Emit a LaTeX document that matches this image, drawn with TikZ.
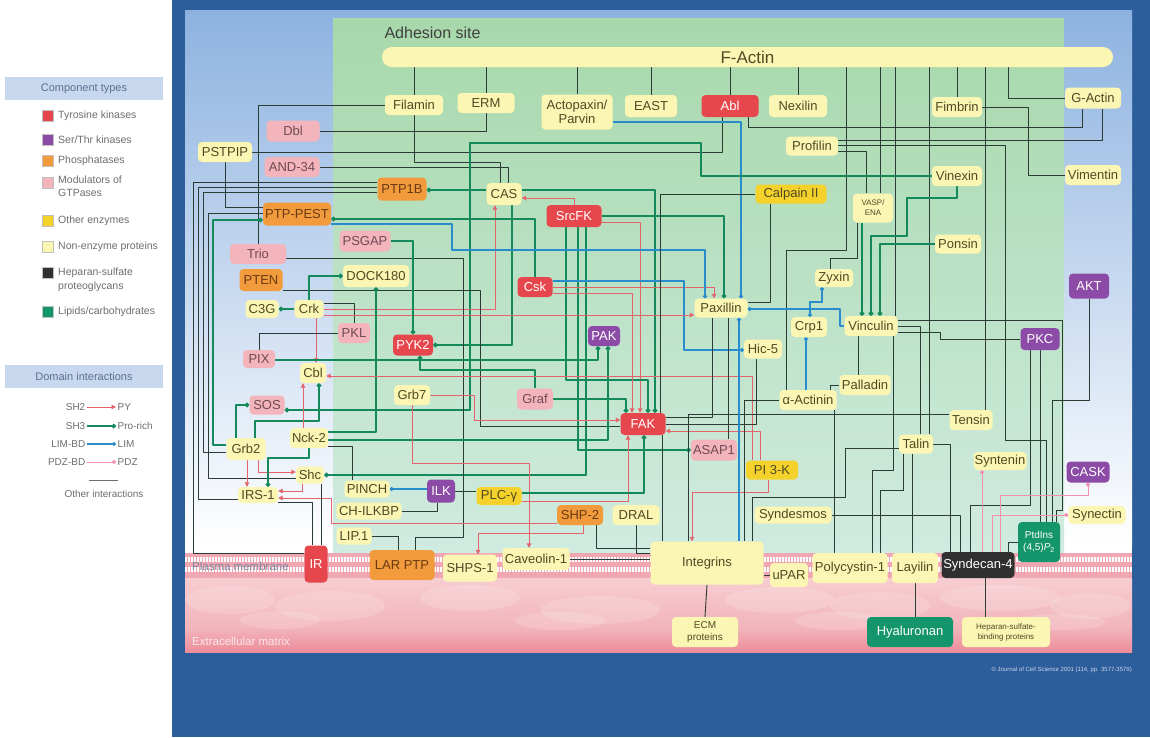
\documentclass[tikz,border=0pt]{standalone}
\usepackage{fontspec}
\setmainfont{Liberation Sans}
\usetikzlibrary{arrows.meta}
\pgfdeclarelayer{bg}
\pgfdeclarelayer{wires}
\pgfsetlayers{bg,wires,main}

% component colours
\definecolor{frame}{HTML}{2D5E9C}
\definecolor{skyA}{HTML}{8DB2E0}
\definecolor{grA}{HTML}{A7D8AA}
\definecolor{grB}{HTML}{D0EBE0}
\definecolor{memb}{HTML}{F0A7B1}
\definecolor{ecmA}{HTML}{F7CDD1}
\definecolor{ecmB}{HTML}{F2B4BB}
\definecolor{ecmC}{HTML}{EC8D9A}
\definecolor{cNen}{HTML}{FBF6B3}
\definecolor{cOen}{HTML}{F4D12B}
\definecolor{cTyr}{HTML}{E6474C}
\definecolor{cSer}{HTML}{8B4BA6}
\definecolor{cPho}{HTML}{F19B3C}
\definecolor{cGtp}{HTML}{F4B4BC}
\definecolor{cHsp}{HTML}{303030}
\definecolor{cLip}{HTML}{14956B}
\definecolor{tDark}{HTML}{4E4A24}
\definecolor{tPho}{HTML}{6B3A12}
\definecolor{tGtp}{HTML}{6E4B55}
\definecolor{tLeg}{HTML}{6E6E6E}
\definecolor{tPm}{HTML}{7A86A0}
\definecolor{tEcm}{HTML}{FBE6EA}
\definecolor{tCopy}{HTML}{C9D6EA}
\definecolor{cHead}{HTML}{C7D8EE}
\definecolor{tHead}{HTML}{5B6F8F}
\definecolor{wBlk}{HTML}{2B3B35}
\definecolor{wRed}{HTML}{E4636A}
\definecolor{wGrn}{HTML}{13895C}
\definecolor{wBlu}{HTML}{2A8DCB}
\definecolor{wPnk}{HTML}{F290AE}

\tikzset{
  box/.style={rounded corners=4pt, inner sep=1pt, align=center, font=\fontsize{13}{14}\selectfont},
  nen/.style={box, fill=cNen, text=tDark},
  oen/.style={box, fill=cOen, text=tDark},
  tyk/.style={box, fill=cTyr, text=white},
  stk/.style={box, fill=cSer, text=white},
  pho/.style={box, fill=cPho, text=tPho},
  gtp/.style={box, fill=cGtp, text=tGtp},
  hsp/.style={box, fill=cHsp, text=white},
  lip/.style={box, fill=cLip, text=white},
  oth/.style={draw=wBlk, line width=0.9pt, line join=round},
  sh2/.style={draw=wRed, line width=0.9pt, line join=round, -{Triangle[length=4.5pt,width=4.5pt]}},
  sh3/.style={draw=wGrn, line width=1.8pt, line join=round, -{Circle[length=4.5pt]}},
  lim/.style={draw=wBlu, line width=1.1pt, line join=round, -{Circle[length=4pt]}},
  pdz/.style={draw=wPnk, line width=1pt, line join=round, -{Circle[length=4pt]}},
  lgsq/.style={minimum size=11pt, inner sep=0pt, draw=black!25, line width=0.3pt},
  lgt/.style={anchor=west, text=tLeg, font=\fontsize{10.5}{13.5}\selectfont, align=left, inner sep=0pt},
  lgd/.style={text=tLeg, font=\fontsize{10}{12}\selectfont, inner sep=1.5pt},
  lghead/.style={fill=cHead, text=tHead, minimum width=158pt, minimum height=23pt, font=\fontsize{11}{12}\selectfont, inner sep=0pt},
}

\newcommand{\bx}[6]{\node[#1, minimum width=#4pt, minimum height=#5pt] (#2) at (#3) {#6};}

\begin{document}
\begin{tikzpicture}[x=1pt,y=-1pt]
\useasboundingbox (0,0) rectangle (1150,737);

% ---------- backdrop: cytoplasm, adhesion site, membrane, matrix ----------
\begin{pgfonlayer}{bg}
\fill[white] (0,0) rectangle (1150,737);
\fill[frame] (172,0) rectangle (1150,737);
\shade[top color=skyA, bottom color=white] (185,10) rectangle (1132,545);
\fill[white] (185,545) rectangle (1132,553);
\shade[top color=grA, bottom color=grB] (333,18) rectangle (1064,553);
\fill[memb] (185,553) rectangle (1132,578);
\foreach \x in {186,189,...,1131} {
  \draw[white, line width=1.3pt] (\x,557) -- (\x,562) (\x,567) -- (\x,572);
}
\shade[top color=ecmA, bottom color=ecmB] (185,578) rectangle (1132,628);
\shade[top color=ecmB, bottom color=ecmC] (185,628) rectangle (1132,652);
\foreach \cx/\cy/\rx/\ry in {230/600/45/14, 330/606/55/15, 470/598/50/13, 600/610/60/14,
    780/600/55/13, 880/606/50/14, 1000/598/60/13, 1090/606/40/13, 280/620/40/9,
    560/621/45/9, 840/621/45/9, 1060/622/45/8} {
  \fill[white, opacity=0.16] (\cx,\cy) ellipse [x radius=\rx pt, y radius=\ry pt];
}
\end{pgfonlayer}

\node[anchor=west, text=black!75, font=\fontsize{16}{18}\selectfont] (adh) at (381,33) {Adhesion site};
\node[anchor=west, text=tPm, font=\fontsize{11.5}{13}\selectfont, inner sep=0pt] (pmlab) at (192,566) {Plasma membrane};
\node[anchor=west, text=tEcm, font=\fontsize{11.5}{13}\selectfont, inner sep=0pt] (ecmlab) at (192,641) {Extracellular matrix};
\node[anchor=east, text=tCopy, font=\fontsize{6}{7}\selectfont, inner sep=0pt] (copy) at (1132,670) {\textcopyright\ Journal of Cell Science 2001 (114, pp. 3577-3579)};

% ---------- legend ----------
\node[lghead] (hComp) at (84,88.5) {Component types};
\node[lgsq, fill=cTyr] (sq1) at (47.5,116) {}; \node[lgt] (t1) at (58,116) {Tyrosine kinases};
\node[lgsq, fill=cSer] (sq2) at (47.5,140) {}; \node[lgt] (t2) at (58,140) {Ser/Thr kinases};
\node[lgsq, fill=cPho] (sq3) at (47.5,161) {}; \node[lgt] (t3) at (58,161) {Phosphatases};
\node[lgsq, fill=cGtp] (sq4) at (47.5,183) {}; \node[lgt] (t4) at (58,186) {Modulators of\\GTPases};
\node[lgsq, fill=cOen] (sq5) at (47.5,221) {}; \node[lgt] (t5) at (58,221) {Other enzymes};
\node[lgsq, fill=cNen] (sq6) at (47.5,247) {}; \node[lgt] (t6) at (58,247) {Non-enzyme proteins};
\node[lgsq, fill=cHsp] (sq7) at (47.5,273) {}; \node[lgt] (t7) at (58,280) {Heparan-sulfate\\proteoglycans};
\node[lgsq, fill=cLip] (sq8) at (47.5,312) {}; \node[lgt] (t8) at (58,312) {Lipids/carbohydrates};

\node[lghead] (hDom) at (84,376.5) {Domain interactions};
\node[lgd, anchor=east] (dA1) at (87,407) {SH2};    \node[lgd, anchor=west] (dA2) at (116,407) {PY};
\node[lgd, anchor=east] (dB1) at (87,426) {SH3};    \node[lgd, anchor=west] (dB2) at (116,426) {Pro-rich};
\node[lgd, anchor=east] (dC1) at (87,444) {LIM-BD}; \node[lgd, anchor=west] (dC2) at (116,444) {LIM};
\node[lgd, anchor=east] (dD1) at (87,462) {PDZ-BD}; \node[lgd, anchor=west] (dD2) at (116,462) {PDZ};
\coordinate (oL) at (89,480); \coordinate (oR) at (118,480);
\node[lgd] (dOther) at (104,494) {Other interactions};

% ---------- components ----------
\node[box, fill=cNen, text=tDark, rounded corners=10pt, minimum width=731pt, minimum height=20pt,
      font=\fontsize{17}{18}\selectfont] (FActin) at (747.5,57) {F-Actin};
\bx{nen}{Filamin}{414,105}{58}{20}{Filamin}
\bx{nen}{ERM}{486,103}{57}{20}{ERM}
\bx{nen}{Actopaxin}{577,112}{71}{35}{Actopaxin/\\Parvin}
\bx{nen}{EAST}{651,106}{52}{22}{EAST}
\bx{tyk}{Abl}{730,106}{57}{22}{Abl}
\bx{nen}{Nexilin}{798,106}{58}{22}{Nexilin}
\bx{nen}{Fimbrin}{957,107}{50}{20}{Fimbrin}
\bx{nen}{GActin}{1093,98}{56}{21}{G-Actin}
\bx{nen}{Profilin}{812,146}{52}{19}{Profilin}
\bx{nen}{Vinexin}{957,176}{50}{20}{Vinexin}
\bx{nen}{Vimentin}{1093,175}{56}{20}{Vimentin}
\bx{oen}{Calpain}{791,194}{71}{19}{Calpain II}
\node[nen, font=\fontsize{8}{10}\selectfont, minimum width=40pt, minimum height=29pt] (VASP) at (873,208) {VASP/\\ENA};
\bx{nen}{Ponsin}{958,244}{46}{19}{Ponsin}
\bx{gtp}{Dbl}{293,131}{53}{21}{Dbl}
\bx{nen}{PSTPIP}{225,152}{54}{20}{PSTPIP}
\bx{gtp}{AND34}{292,167}{55}{20}{AND-34}
\bx{pho}{PTP1B}{402,189}{49}{23}{PTP1B}
\bx{nen}{CAS}{504,194}{35}{22}{CAS}
\bx{pho}{PTPPEST}{297,214}{68}{23}{PTP-PEST}
\bx{tyk}{SrcFK}{574,216}{55}{22}{SrcFK}
\bx{gtp}{PSGAP}{365,241}{51}{21}{PSGAP}
\bx{gtp}{Trio}{258,254}{56}{20}{Trio}
\bx{pho}{PTEN}{261,280}{43}{22}{PTEN}
\bx{nen}{DOCK180}{376,276}{66}{22}{DOCK180}
\bx{tyk}{Csk}{535,287}{35}{20}{Csk}
\bx{stk}{AKT}{1089,286}{40}{25}{AKT}
\bx{nen}{Zyxin}{834,278}{38}{18}{Zyxin}
\bx{nen}{C3G}{262,309}{33}{18}{C3G}
\bx{nen}{Crk}{309,309}{29}{18}{Crk}
\bx{nen}{Paxillin}{721,308}{53}{19}{Paxillin}
\bx{nen}{Crp1}{809,327}{36}{20}{Crp1}
\bx{nen}{Vinculin}{871,326}{53}{20}{Vinculin}
\bx{gtp}{PKL}{354,333}{32}{20}{PKL}
\bx{stk}{PKC}{1040,339}{39}{22}{PKC}
\bx{stk}{PAK}{604,336}{32}{20}{PAK}
\bx{tyk}{PYK2}{413,345}{40}{21}{PYK2}
\bx{nen}{Hic5}{763,349}{38}{19}{Hic-5}
\bx{gtp}{PIX}{259,359}{32}{18}{PIX}
\bx{nen}{Cbl}{313,373}{26}{20}{Cbl}
\bx{nen}{Palladin}{865,385}{51}{20}{Palladin}
\bx{nen}{Grb7}{412,395}{36}{20}{Grb7}
\bx{nen}{aActinin}{808,400}{57}{20}{α-Actinin}
\bx{gtp}{Graf}{535,399}{36}{21}{Graf}
\bx{gtp}{SOS}{267,405}{35}{19}{SOS}
\bx{tyk}{FAK}{643,424}{45}{22}{FAK}
\bx{nen}{Tensin}{971,420}{43}{20}{Tensin}
\bx{nen}{Nck2}{309,438}{38}{20}{Nck-2}
\bx{nen}{Talin}{916,444}{34}{19}{Talin}
\bx{nen}{Grb2}{246,449}{39}{22}{Grb2}
\bx{gtp}{ASAP1}{714,450}{46}{21}{ASAP1}
\bx{nen}{Syntenin}{1000,461}{53}{18}{Syntenin}
\bx{oen}{PI3K}{772,470}{52}{19}{PI 3-K}
\bx{stk}{CASK}{1088,472}{43}{21}{CASK}
\bx{nen}{Shc}{310,475}{28}{17}{Shc}
\bx{nen}{PINCH}{367,489}{45}{17}{PINCH}
\bx{stk}{ILK}{441,491}{28}{23}{ILK}
\bx{nen}{IRS1}{258,495}{40}{16}{IRS-1}
\bx{oen}{PLCg}{499,496}{45}{18}{PLC-γ}
\bx{nen}{CHILKBP}{369,511}{65}{17}{CH-ILKBP}
\bx{pho}{SHP2}{580,515}{46}{20}{SHP-2}
\bx{nen}{DRAL}{636,515}{47}{20}{DRAL}
\bx{nen}{Syndesmos}{793,515}{77}{17}{Syndesmos}
\bx{nen}{Synectin}{1097,515}{57}{18}{Synectin}
\node[lip, font=\fontsize{10}{12}\selectfont, minimum width=42pt, minimum height=40pt] (PtdIns) at (1039,542) {PtdIns\\(4,5)\textit{P}\textsubscript{2}};
\bx{nen}{LIP1}{354,536}{35}{17}{LIP.1}
\bx{nen}{Integrins}{707,563}{113}{43}{Integrins}
\bx{nen}{Caveolin1}{536,559}{67}{22}{Caveolin-1}
\bx{tyk}{IR}{316,564}{23}{37}{IR}
\bx{pho}{LARPTP}{402,565}{65}{30}{LAR PTP}
\bx{nen}{SHPS1}{470,568}{54}{27}{SHPS-1}
\bx{nen}{uPAR}{789,575}{38}{24}{uPAR}
\bx{nen}{Polycystin1}{850,568}{75}{30}{Polycystin-1}
\bx{nen}{Layilin}{915,568}{46}{30}{Layilin}
\bx{hsp}{Syndecan4}{978,565}{73}{26}{Syndecan-4}
\node[nen, font=\fontsize{10}{11.5}\selectfont, minimum width=66pt, minimum height=30pt] (ECM) at (705,632) {ECM\\proteins};
\bx{lip}{Hyaluronan}{910,632}{86}{30}{Hyaluronan}
\node[nen, font=\fontsize{8}{10}\selectfont, minimum width=88pt, minimum height=30pt] (HSBP) at (1006,632) {Heparan-sulfate-\\binding proteins};

% ---------- interactions ----------
\begin{pgfonlayer}{wires}
% legend samples
\draw[sh2] (dA1.east) -- (dA2.west);
\draw[sh3, line width=1.2pt] (dB1.east) -- (dB2.west);
\draw[lim] (dC1.east) -- (dC2.west);
\draw[pdz] (dD1.east) -- (dD2.west);
\draw[draw=tLeg, line width=0.8pt] (oL) -- (oR);

% actin filament partners
\draw[oth] (FActin.south -| Filamin.north) -- (Filamin.north);
\draw[oth] (FActin.south -| ERM.north) -- (ERM.north);
\draw[oth] (FActin.south -| Actopaxin.north) -- (Actopaxin.north);
\draw[oth] (FActin.south -| EAST.north) -- (EAST.north);
\draw[oth] (FActin.south -| Abl.north) -- (Abl.north);
\draw[oth] (FActin.south -| Nexilin.north) -- (Nexilin.north);
\draw[oth] (FActin.south -| Fimbrin.north) -- (Fimbrin.north);
\draw[oth] (FActin.south -| 1008,0) |- (GActin.west);
\draw[oth] (FActin.south -| 880,0) -- (VASP.north -| 880,0);
\draw[oth] (FActin.south -| 846,0) |- (786,250) -- (aActinin.north -| 786,0);
\draw[oth] (FActin.south -| 895,0) -- (Vinculin.north -| 895,0);
\draw[oth] (FActin.south -| 929,0) -- (Talin.north -| 929,0);
\draw[oth] (FActin.south -| 985,0) -- (Tensin.north -| 985,0);

% upper left cluster
\draw[oth] (Filamin.west) -| (Trio.north);
\draw[oth] (Filamin.south) |- (500,162) -- (CAS.north -| 500,0);
\draw[oth] (AND34.east) -| (CAS.north -| 508,0);
\draw[oth] (ERM.south) |- (Dbl.east);
\draw[oth] (PSTPIP.east) -| (Abl.south -| 722,0);
\draw[oth] (PSTPIP.south) |- (PTPPEST.west |- 0,207);
\draw[lim] (Actopaxin.east |- 0,122) -| (Paxillin.north -| 741,0);
\draw[oth] (Abl.south -| 748,0) |- (1082,127) -- (GActin.south -| 1082,0);
\draw[oth] (Profilin.east |- 0,140) -| (GActin.south -| 1102,0);
\draw[oth] (Profilin.east |- 0,145) -| (1005,440) -| (PtdIns.north -| 1046,0);
\draw[oth] (Profilin.east |- 0,151) -| (VASP.north -| 866,0);
\draw[oth] (Fimbrin.east) -| (1028,175) -- (Vimentin.west);

% vinculin partners
\draw[sh3] (VASP.south -| 862,0) -- (Vinculin.north -| 862,0);
\draw[sh3] (Vinexin.south) |- (907,198) -- (907,236) -| (Vinculin.north -| 871,0);
\draw[sh3] (Ponsin.west) -| (Vinculin.north -| 880,0);
\draw[sh3] (Vinexin.west) -| (701,143) -| (470,410) -- (SOS.east |- 0,410);

% CAS, Src, Csk
\draw[sh3] (CAS.west |- 0,190) -- (PTP1B.east |- 0,190);
\draw[sh2] (SrcFK.north) |- (CAS.east |- 0,198);
\draw[sh2] (Crk.east) -| (CAS.south -| 495,0);
\draw[sh3] (CAS.east |- 0,190) -| (FAK.north -| 655,0);
\draw[sh3] (CAS.south -| 512,0) |- (PYK2.east);
\draw[sh3] (SrcFK.east) -| (Paxillin.north -| 724,0);
\draw[sh2] (SrcFK.east |- 0,222) -| (FAK.north -| 640,0);
\draw[sh3] (SrcFK.south -| 566,0) -- (566,380) -| (FAK.north -| 648,0);
\draw[sh3] (SrcFK.south -| 578,0) |- (ASAP1.west);
\draw[sh3] (SrcFK.south -| 586,0) |- (Shc.east);
\draw[sh3] (Csk.north) |- (PTPPEST.east |- 0,219);
\draw[sh2] (Csk.east) -| (Paxillin.north -| 714,0);
\draw[sh2] (Csk.east |- 0,293) -| (FAK.north -| 632,0);
\draw[lim] (Csk.east |- 0,281) -| (684,350) -- (Hic5.west |- 0,350);
\draw[lim] (PTPPEST.east |- 0,224) -| (452,250) -| (Paxillin.north -| 705,0);

% left-hand bundle
\draw[oth] (PTP1B.west |- 0,182) -| (193,553) -- (IR.west |- 0,553);
\draw[oth] (PTP1B.west |- 0,187) -| (198,499) -- (IRS1.west |- 0,499);
\draw[oth] (PTP1B.west |- 0,192) -| (203,452) -- (Grb2.west |- 0,452);
\draw[oth] (PTPPEST.west |- 0,213) -| (208,478) -- (Shc.west |- 0,478);
\draw[sh3] (Grb2.west |- 0,445) -| (213,220) -- (PTPPEST.west |- 0,220);
\draw[oth] (Trio.east |- 0,258) -| (463,537) -| (LARPTP.north -| 415,0);
\draw[oth] (LIP1.east) -| (LARPTP.north -| 398,0);
\draw[oth] (PTEN.east |- 0,290) -| (480,426) -- (FAK.west |- 0,426);

% adaptors
\draw[sh3] (Crk.west) -- (C3G.east);
\draw[sh3] (Crk.north) |- (DOCK180.west);
\draw[oth] (Crk.east |- 0,303) -| (PKL.north);
\draw[sh2] (Crk.east |- 0,315) -- (Paxillin.west |- 0,315);
\draw[sh2] (Crk.south -| 316,0) -- (Cbl.north -| 316,0);
\draw[oth] (PKL.west) -| (PIX.north);
\draw[sh3] (Nck2.east |- 0,432) -| (DOCK180.south);
\draw[sh3] (Grb2.north -| 236,0) |- (SOS.west);
\draw[sh3] (Grb2.north -| 255,0) |- (319,421) -- (Cbl.south -| 319,0);
\draw[sh2] (Nck2.north -| 303,0) -- (Cbl.south -| 303,0);
\draw[sh2] (Grb2.south -| 247,0) -- (IRS1.north -| 247,0);
\draw[sh2] (Grb2.south -| 258,0) |- (Shc.west |- 0,472);
\draw[sh2] (Shc.south -| 302,0) |- (IRS1.east |- 0,491);
\draw[sh3] (Nck2.south -| 309,0) |- (268,458) -- (IRS1.north -| 268,0);
\draw[sh3] (PIX.east |- 0,360) -| (PAK.south -| 598,0);
\draw[sh3] (Nck2.east |- 0,440) -| (PAK.south -| 608,0);
\draw[oth] (Nck2.east |- 0,446) -| (PINCH.north -| 352,0);
\draw[sh3] (PSGAP.east) -| (PYK2.north);
\draw[sh3] (Graf.east) -| (FAK.north -| 626,0);
\draw[sh3] (Graf.north) |- (420,370) -- (PYK2.south -| 420,0);
\draw[sh2] (Grb7.east) -| (474,420) -- (FAK.west |- 0,420);
\draw[sh2] (Grb7.south) |- (529,463) -- (Caveolin1.north -| 529,0);

% PI 3-K, FAK and integrins
\draw[sh2] (PI3K.north -| 760,0) |- (FAK.east |- 0,431);
\draw[sh2] (PI3K.north -| 752,0) |- (Cbl.east |- 0,376);
\draw[sh2] (PI3K.south -| 768,0) |- (692,492) -- (Integrins.north -| 692,0);
\draw[oth] (Talin.west |- 0,448) -| (845,497) -| (Integrins.north -| 752,0);
\draw[oth] (Talin.south -| 912,0) -- (Layilin.north -| 912,0);
\draw[oth] (Talin.south -| 903,0) |- (880,490) -- (Polycystin1.north -| 880,0);
\draw[oth] (Talin.east) -| (Syndecan4.north -| 950,0);
\draw[oth] (Tensin.west |- 0,414) -| (Integrins.north -| 688,0);
\draw[oth] (aActinin.west) -| (Integrins.north -| 744,0);
\draw[oth] (FAK.east |- 0,417) -| (Paxillin.south -| 712,0);
\draw[oth] (Paxillin.south -| 728,0) -- (ASAP1.north -| 728,0);
\draw[oth] (Hic5.south -| 756,0) |- (FAK.east |- 0,424);
\draw[sh2] (PLCg.east |- 0,501) -| (FAK.south -| 628,0);
\draw[sh3] (PLCg.east |- 0,493) -| (FAK.south -| 644,0);
\draw[oth] (FAK.south -| 662,0) -- (Integrins.north -| 662,0);
\draw[oth] (Caveolin1.east) -- (Integrins.west |- Caveolin1.east);
\draw[oth] (SHP2.south -| 596,0) |- (Integrins.west |- 0,548);
\draw[oth] (DRAL.south) |- (Integrins.west |- 0,553);
\draw[oth] (Integrins.south) -- (ECM.north);
\draw[oth] (Integrins.east |- uPAR.west) -- (uPAR.west);
\draw[lim] (Integrins.north -| 739,0) -- (Paxillin.south -| 739,0);
\draw[oth] (Calpain.west) -| (FAK.north -| 660,0);
\draw[oth] (Calpain.south -| 770,0) |- (Paxillin.east |- 0,302);

% ILK complex and membrane receptors
\draw[lim] (ILK.west |- PINCH.east) -- (PINCH.east);
\draw[oth] (CHILKBP.east) -| (ILK.south -| 437,0);
\draw[oth] (ILK.east) -- (PLCg.west |- ILK.east);
\draw[sh2] (SHP2.south -| 583,0) |- (478,533) -- (SHPS1.north -| 478,0);
\draw[sh2] (SHP2.west |- 0,523) -| (331,498) -- (IRS1.east |- 0,498);
\draw[oth] (IRS1.east |- 0,502) -| (IR.north -| 312,0);
\draw[oth] (Shc.south -| 321,0) -- (IR.north -| 321,0);

% paxillin, zyxin, vinculin
\draw[lim] (Vinculin.west) -| (840,309) -- (Paxillin.east |- 0,309);
\draw[wBlu, line width=1.1pt, {Circle[length=4pt]}-{Circle[length=4pt]}] (Zyxin.south -| 822,0) |- (810,302) -- (Crp1.north -| 810,0);
\draw[lim] (aActinin.north -| 806,0) -- (Crp1.south -| 806,0);
\draw[oth] (Zyxin.north -| 830,0) |- (857,258) -- (VASP.south -| 857,0);
\draw[oth] (Palladin.west) -| (aActinin.north -| 830,0);
\draw[oth] (Vinculin.south -| 858,0) -- (Palladin.north -| 858,0);
\draw[oth] (Vinculin.south -| 893,0) |- (872,470) -- (Polycystin1.north -| 872,0);
\draw[oth] (aActinin.south -| 834,0) -- (Polycystin1.north -| 834,0);
\draw[oth] (Vinculin.east |- 0,320) -| (1062,510) -| (PtdIns.north -| 1056,0);
\draw[oth] (Vinculin.east |- 0,326) -| (Talin.north -| 920,0);
\draw[oth] (Vinculin.east |- 0,332) -| (940,339) -- (PKC.west);

% kinases, lipids and syndecan-4
\draw[oth] (PKC.south) -- (PtdIns.north -| PKC.south);
\draw[oth] (PKC.south -| 1030,0) |- (970,505) -- (Syndecan4.north -| 970,0);
\draw[oth] (AKT.south) |- (1052,400) -- (PtdIns.north -| 1052,0);
\draw[oth] (Syndecan4.south -| 985,0) -- (HSBP.north -| 985,0);
\draw[oth] (Layilin.south) -- (Hyaluronan.north -| Layilin.south);
\draw[pdz] (Syndecan4.north -| 982,0) -- (Syntenin.south -| 982,0);
\draw[pdz] (Syndecan4.north -| 992,0) |- (Synectin.west);
\draw[pdz] (Syndecan4.north -| 1000,0) |- (1088,495) -- (CASK.south -| 1088,0);
\draw[oth] (PtdIns.west) -| (Syndecan4.north -| 1008,0);
\draw[oth] (Syndesmos.east) -| (Syndecan4.north -| 960,0);
\end{pgfonlayer}
\end{tikzpicture}
\end{document}
